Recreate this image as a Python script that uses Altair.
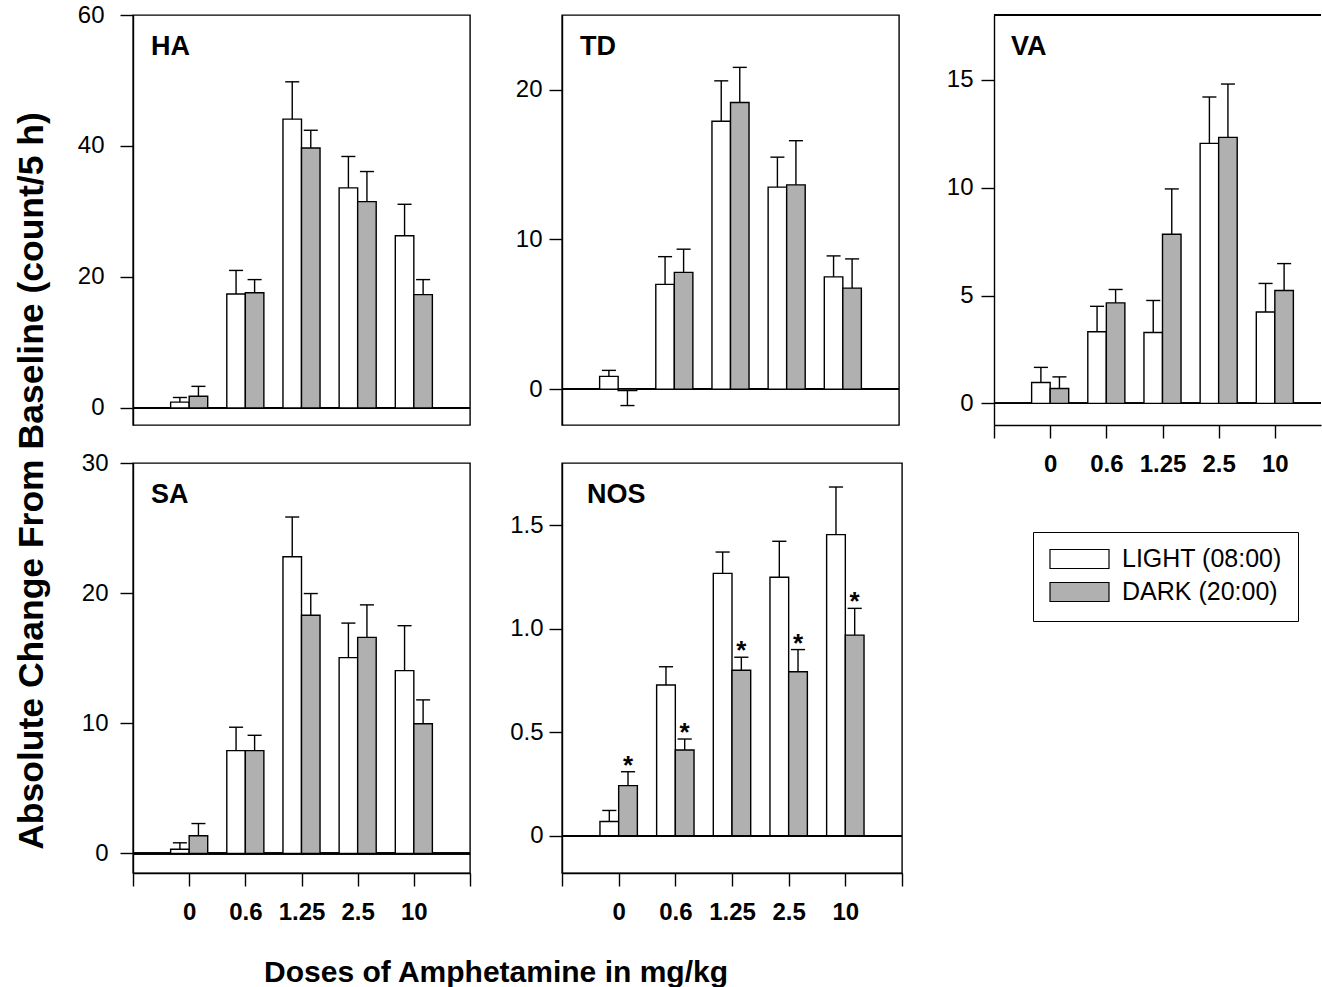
import altair as alt
import pandas as pd

# ---------------- data ----------------
doses = ["0", "0.6", "1.25", "2.5", "10"]
series = ["LIGHT (08:00)", "DARK (20:00)"]
series_fill = ["#ffffff", "#b0b0b0"]

panel_names = ["HA", "TD", "VA", "SA", "NOS"]

ha_light = [0.9, 17.4, 44.1, 33.6, 26.3]
ha_light_se = [0.7, 3.6, 5.7, 4.8, 4.8]
ha_dark = [1.8, 17.6, 39.7, 31.5, 17.3]
ha_dark_se = [1.5, 2.0, 2.7, 4.6, 2.3]

td_light = [0.85, 7.0, 17.9, 13.5, 7.5]
td_light_se = [0.4, 1.85, 2.7, 2.0, 1.4]
td_dark = [-0.1, 7.8, 19.15, 13.65, 6.75]
td_dark_se = [1.0, 1.55, 2.35, 2.95, 1.95]

va_light = [0.97, 3.32, 3.29, 12.05, 4.24]
va_light_se = [0.7, 1.18, 1.48, 2.15, 1.32]
va_dark = [0.69, 4.66, 7.84, 12.33, 5.23]
va_dark_se = [0.54, 0.62, 2.1, 2.47, 1.25]

sa_light = [0.33, 7.9, 22.8, 15.05, 14.05]
sa_light_se = [0.49, 1.8, 3.05, 2.65, 3.45]
sa_dark = [1.36, 7.9, 18.3, 16.6, 9.97]
sa_dark_se = [0.94, 1.18, 1.67, 2.5, 1.83]

nos_light = [0.069, 0.728, 1.267, 1.248, 1.454]
nos_light_se = [0.053, 0.088, 0.103, 0.174, 0.230]
nos_dark = [0.242, 0.414, 0.799, 0.792, 0.969]
nos_dark_se = [0.067, 0.053, 0.063, 0.107, 0.129]
nos_dark_sig = [True, True, True, True, True]

x_title = "Doses of Amphetamine in mg/kg"
y_title = "Absolute Change From Baseline (count/5 h)"

# ---------------- style ----------------
FONT = "Liberation Sans"
BAR_W = 0.33      # bar width in dose-slot units
CAP_HALF = 0.125  # half width of error caps
LW = 1.4


def make_df(light, light_se, dark, dark_se, sig=None):
    rows = []
    for i, d in enumerate(doses):
        pos = i + 1
        for s_idx, (vals, ses) in enumerate([(light, light_se), (dark, dark_se)]):
            v = vals[i]
            e = ses[i]
            x0 = pos - BAR_W if s_idx == 0 else pos
            x1 = pos if s_idx == 0 else pos + BAR_W
            xc = (x0 + x1) / 2
            top = v + e if v >= 0 else v - e
            star = "*" if (sig is not None and s_idx == 1 and sig[i]) else ""
            rows.append(dict(dose=d, series=series[s_idx], value=v, x0=x0, x1=x1,
                             xc=xc, cl=xc - CAP_HALF, cr=xc + CAP_HALF,
                             etop=top, star=star))
    return pd.DataFrame(rows)


legend = alt.Legend(
    title=None, orient="none", legendX=900, legendY=517, direction="vertical",
    strokeColor="black", fillColor="white", padding=16,
    symbolType="M-1,-0.322H1V0.322H-1Z", symbolSize=3481,
    symbolStrokeColor="black", symbolStrokeWidth=1.2, clipHeight=22,
    rowPadding=8, labelFontSize=25, labelFont=FONT, labelColor="black",
    labelOffset=12, cornerRadius=0,
)

x_label_expr = "datum.value >= 1 && datum.value <= 5 ? [" + ",".join(
    "'" + d + "'" for d in doses) + "][datum.value - 1] : ''"


def panel(name, df, ydomain, yticks, width, xmax, show_x, label_x, label_pad,
          framed=True, ylabel_expr=None, extra_layers=()):
    height = 410
    xscale = alt.Scale(domain=[0, xmax], nice=False, zero=False)
    yscale = alt.Scale(domain=ydomain, nice=False, zero=False)
    if show_x:
        xticks = [v for v in range(0, 7) if v <= xmax]
        xaxis = alt.Axis(values=xticks, title=None, grid=False, tickSize=13,
                         labelExpr=x_label_expr, labelFontSize=24,
                         labelFontWeight="bold", labelFont=FONT, labelPadding=14,
                         labelFlush=False, labelOverlap=False, domain=True,
                         domainColor="black", domainWidth=LW, tickColor="black",
                         tickWidth=LW, labelColor="black")
    else:
        xaxis = None
    yargs = dict(values=yticks, title=None, grid=False, tickSize=13,
                 labelFontSize=24, labelFont=FONT, labelPadding=label_pad,
                 labelOverlap=False, domain=True, domainColor="black",
                 domainWidth=LW, tickColor="black", tickWidth=LW,
                 labelColor="black")
    if ylabel_expr:
        yargs["labelExpr"] = ylabel_expr
    yaxis = alt.Axis(**yargs)

    base = alt.Chart(df)
    bars = base.mark_rect(stroke="black", strokeWidth=LW).encode(
        x=alt.X("x0:Q", scale=xscale, axis=xaxis),
        x2="x1:Q",
        y=alt.Y("value:Q", scale=yscale, axis=yaxis),
        y2=alt.Y2(datum=0),
        fill=alt.Fill("series:N", scale=alt.Scale(domain=series, range=series_fill),
                      legend=legend),
    )
    whisk = base.mark_rule(color="black", strokeWidth=LW).encode(
        x=alt.X("xc:Q", scale=xscale, axis=xaxis),
        y=alt.Y("value:Q", scale=yscale, axis=yaxis),
        y2="etop:Q",
    )
    caps = base.mark_rule(color="black", strokeWidth=LW).encode(
        x=alt.X("cl:Q", scale=xscale, axis=xaxis),
        x2="cr:Q",
        y=alt.Y("etop:Q", scale=yscale, axis=yaxis),
    )
    zero = alt.Chart(df).mark_rule(color="black", strokeWidth=LW).encode(
        x=alt.value(0), x2=alt.value(width),
        y=alt.YDatum(0, scale=yscale, axis=yaxis),
    )
    lab = alt.Chart(pd.DataFrame({"label": [name]})).mark_text(
        align="left", baseline="alphabetic", fontSize=27, fontWeight="bold",
        font=FONT, color="black",
    ).encode(x=alt.value(label_x), y=alt.value(40), text="label:N")

    layers = [zero, bars, whisk, caps, lab]
    if "star" in df.columns and (df["star"] != "").any():
        stars = base.transform_filter("datum.star != ''").mark_text(
            fontSize=26, fontWeight="bold", font=FONT, color="black",
            baseline="alphabetic", dy=2,
        ).encode(
            x=alt.X("xc:Q", scale=xscale, axis=xaxis),
            y=alt.Y("etop:Q", scale=yscale, axis=yaxis),
            text="star:N",
        )
        layers.append(stars)
    if not framed:
        top = alt.Chart(df).mark_rule(color="black", strokeWidth=LW).encode(
            x=alt.value(0), x2=alt.value(width), y=alt.value(0))
        layers.append(top)
    layers.extend(extra_layers)
    ch = alt.layer(*layers).properties(width=width, height=height)
    if framed:
        ch = ch.properties(view=alt.ViewBackground(stroke="black", strokeWidth=LW,
                                                   strokeOpacity=1))
    else:
        ch = ch.properties(view=alt.ViewBackground(strokeOpacity=0))
    return ch


ytitle_layer = alt.Chart(pd.DataFrame({"t": [y_title]})).mark_text(
    angle=270, align="center", baseline="alphabetic", fontSize=35.5,
    fontWeight="bold", font=FONT, color="black",
).encode(x=alt.value(-90), y=alt.value(466), text="t:N")

xtitle_layer = alt.Chart(pd.DataFrame({"t": [x_title]})).mark_text(
    align="center", baseline="alphabetic", fontSize=30,
    fontWeight="bold", font=FONT, color="black",
).encode(x=alt.value(363), y=alt.value(519), text="t:N")

ha = panel("HA", make_df(ha_light, ha_light_se, ha_dark, ha_dark_se),
           [-2.6, 60], [0, 20, 40, 60], 337, 6, False, 18, 16,
           extra_layers=[ytitle_layer])
td = panel("TD", make_df(td_light, td_light_se, td_dark, td_dark_se),
           [-2.4, 25], [0, 10, 20], 337, 6, False, 18, 7)
va = panel("VA", make_df(va_light, va_light_se, va_dark, va_dark_se),
           [-1, 18], [0, 5, 10, 15], 327, 327 / 337 * 6, True, 17, 8,
           framed=False)
sa = panel("SA", make_df(sa_light, sa_light_se, sa_dark, sa_dark_se),
           [-1.5, 30], [0, 10, 20, 30], 337, 6, True, 18, 12,
           extra_layers=[xtitle_layer])
nos = panel("NOS", make_df(nos_light, nos_light_se, nos_dark, nos_dark_se, nos_dark_sig),
            [-0.18, 1.8], [0, 0.5, 1.0, 1.5], 340, 6, True, 25, 6,
            ylabel_expr="datum.value == 0 ? '0' : format(datum.value, '.1f')")

chart = alt.concat(
    ha, td, va, sa, nos, columns=3, bounds="flush", align="each",
    spacing={"row": 38, "column": 92},
).properties(
    padding={"left": 14, "top": 2, "right": 0, "bottom": 0},
).configure_view(
    stroke="black", strokeWidth=LW,
).configure_axis(
    domainColor="black", domainWidth=LW, tickColor="black", tickWidth=LW,
    labelColor="black",
).configure_legend(
    strokeWidth=1,
).configure(
    font=FONT, background="white",
)

chart.save("out.html", embed_options={"renderer": "svg", "actions": False})
